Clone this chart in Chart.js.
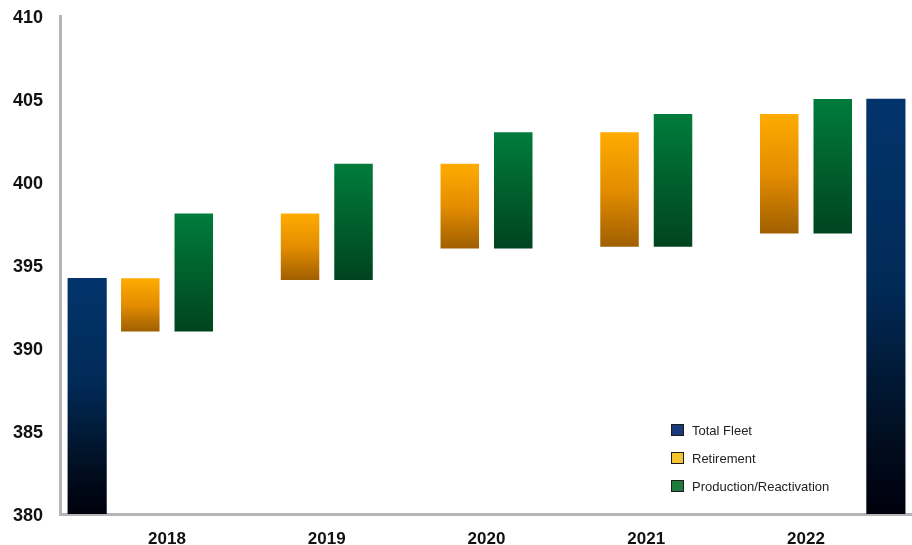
<!DOCTYPE html>
<html>
<head>
<meta charset="utf-8">
<script src="https://cdn.jsdelivr.net/npm/chart.js@4"></script>
<style>
    html, body { margin: 0; padding: 0; background: #fff; }
    #wrap { position: relative; width: 912px; height: 545px; }
    .legend { position: absolute; left: 671px; top: 416px; font-family: Arial, "Liberation Sans", sans-serif; font-size: 13px; color: #222; }
    .legend-row { display: flex; align-items: center; height: 28px; }
    .swatch { width: 13px; height: 12px; box-sizing: border-box; border: 1.5px solid #1c1c1c; margin-right: 8px; }
</style>
</head>
<body>
<div id="wrap">
    <canvas id="fleetChart"></canvas>
    <div class="legend">
        <div class="legend-row"><span class="swatch" style="background:#1b3a7e"></span>Total Fleet</div>
        <div class="legend-row"><span class="swatch" style="background:#f5c431"></span>Retirement</div>
        <div class="legend-row"><span class="swatch" style="background:#1f7a3d"></span>Production/Reactivation</div>
    </div>
</div>
<script>
// Fleet bridge: opening fleet, yearly retirements and additions, closing fleet
const years = [2018, 2019, 2020, 2021, 2022];
// opening fleet sits at the start of 2018, closing fleet at the end of 2022
const periods = [2017.5, 2018, 2019, 2020, 2021, 2022, 2022.5];
const totalFleet = [394.2, null, null, null, null, null, 405.0];
const retirementHigh = [null, 394.2, 398.1, 401.1, 403.0, 404.1, null];
const retirementLow = [null, 391.0, 394.1, 396.0, 396.1, 396.9, null];
const productionHigh = [null, 398.1, 401.1, 403.0, 404.1, 405.0, null];
const productionLow = [null, 391.0, 394.1, 396.0, 396.1, 396.9, null];
const yTicks = [380, 385, 390, 395, 400, 405, 410];

const yMin = yTicks[0];
const yMax = yTicks[yTicks.length - 1];

function floating(low, high) {
    return high.map((v, i) => v === null ? null : [low[i], v]);
}

// vertical gradient spanning each bar from its top to its base
function barGradient(stops) {
    return (ctx) => {
        const chart = ctx.chart;
        if (!chart.chartArea || !Array.isArray(ctx.raw)) return stops[0][1];
        const y = chart.scales.y;
        const top = y.getPixelForValue(ctx.raw[1]);
        const bottom = y.getPixelForValue(ctx.raw[0]);
        const g = chart.ctx.createLinearGradient(0, top, 0, bottom);
        stops.forEach(([pos, color]) => g.addColorStop(pos, color));
        return g;
    };
}

const font = 'Arial, "Liberation Sans", sans-serif';

new Chart(document.getElementById('fleetChart'), {
    type: 'bar',
    data: {
        labels: periods,
        datasets: [{
            label: 'Total Fleet',
            data: totalFleet.map(v => v === null ? null : [yMin, v]),
            backgroundColor: barGradient([[0, '#02346b'], [0.45, '#012a57'], [0.8, '#010f22'], [1, '#00000c']]),
            barThickness: 38.5,
            skipNull: true
        }, {
            label: 'Retirement',
            data: floating(retirementLow, retirementHigh),
            backgroundColor: barGradient([[0, '#ffab00'], [0.5, '#e48d00'], [1, '#a05f00']]),
            categoryPercentage: 1.339,
            barPercentage: 0.72,
            skipNull: true
        }, {
            label: 'Production/Reactivation',
            data: floating(productionLow, productionHigh),
            backgroundColor: barGradient([[0, '#007c3c'], [1, '#00441f']]),
            categoryPercentage: 1.339,
            barPercentage: 0.72,
            skipNull: true
        }]
    },
    options: {
        responsive: true,
        maintainAspectRatio: false,
        animation: false,
        layout: { padding: { top: 16, right: 0, bottom: 0, left: 0 } },
        plugins: {
            legend: { display: false },
            tooltip: { enabled: false }
        },
        scales: {
            x: {
                type: 'linear',
                offset: false,
                min: 2017.33,
                max: 2022.6635,
                afterBuildTicks: (scale) => { scale.ticks = years.map(v => ({ value: v })); },
                afterFit: (scale) => { scale.height = 31; },
                grid: { display: false, drawTicks: false },
                border: { display: true, color: '#b5b5b5', width: 3 },
                ticks: {
                    padding: 15,
                    color: '#111',
                    font: { family: font, size: 17, weight: 'bold' },
                    callback: (v) => String(v)
                }
            },
            y: {
                min: yMin,
                max: yMax,
                afterBuildTicks: (scale) => { scale.ticks = yTicks.map(v => ({ value: v })); },
                afterFit: (scale) => {
                    scale.width = 60;
                    scale.paddingTop = 0;
                    scale.paddingBottom = 0;
                },
                grid: { display: false, drawTicks: false },
                border: { display: true, color: '#b5b5b5', width: 3 },
                ticks: {
                    padding: 17,
                    labelOffset: 2.5,
                    color: '#111',
                    font: { family: font, size: 18, weight: 'bold' }
                }
            }
        }
    }
});
</script>
</body>
</html>
